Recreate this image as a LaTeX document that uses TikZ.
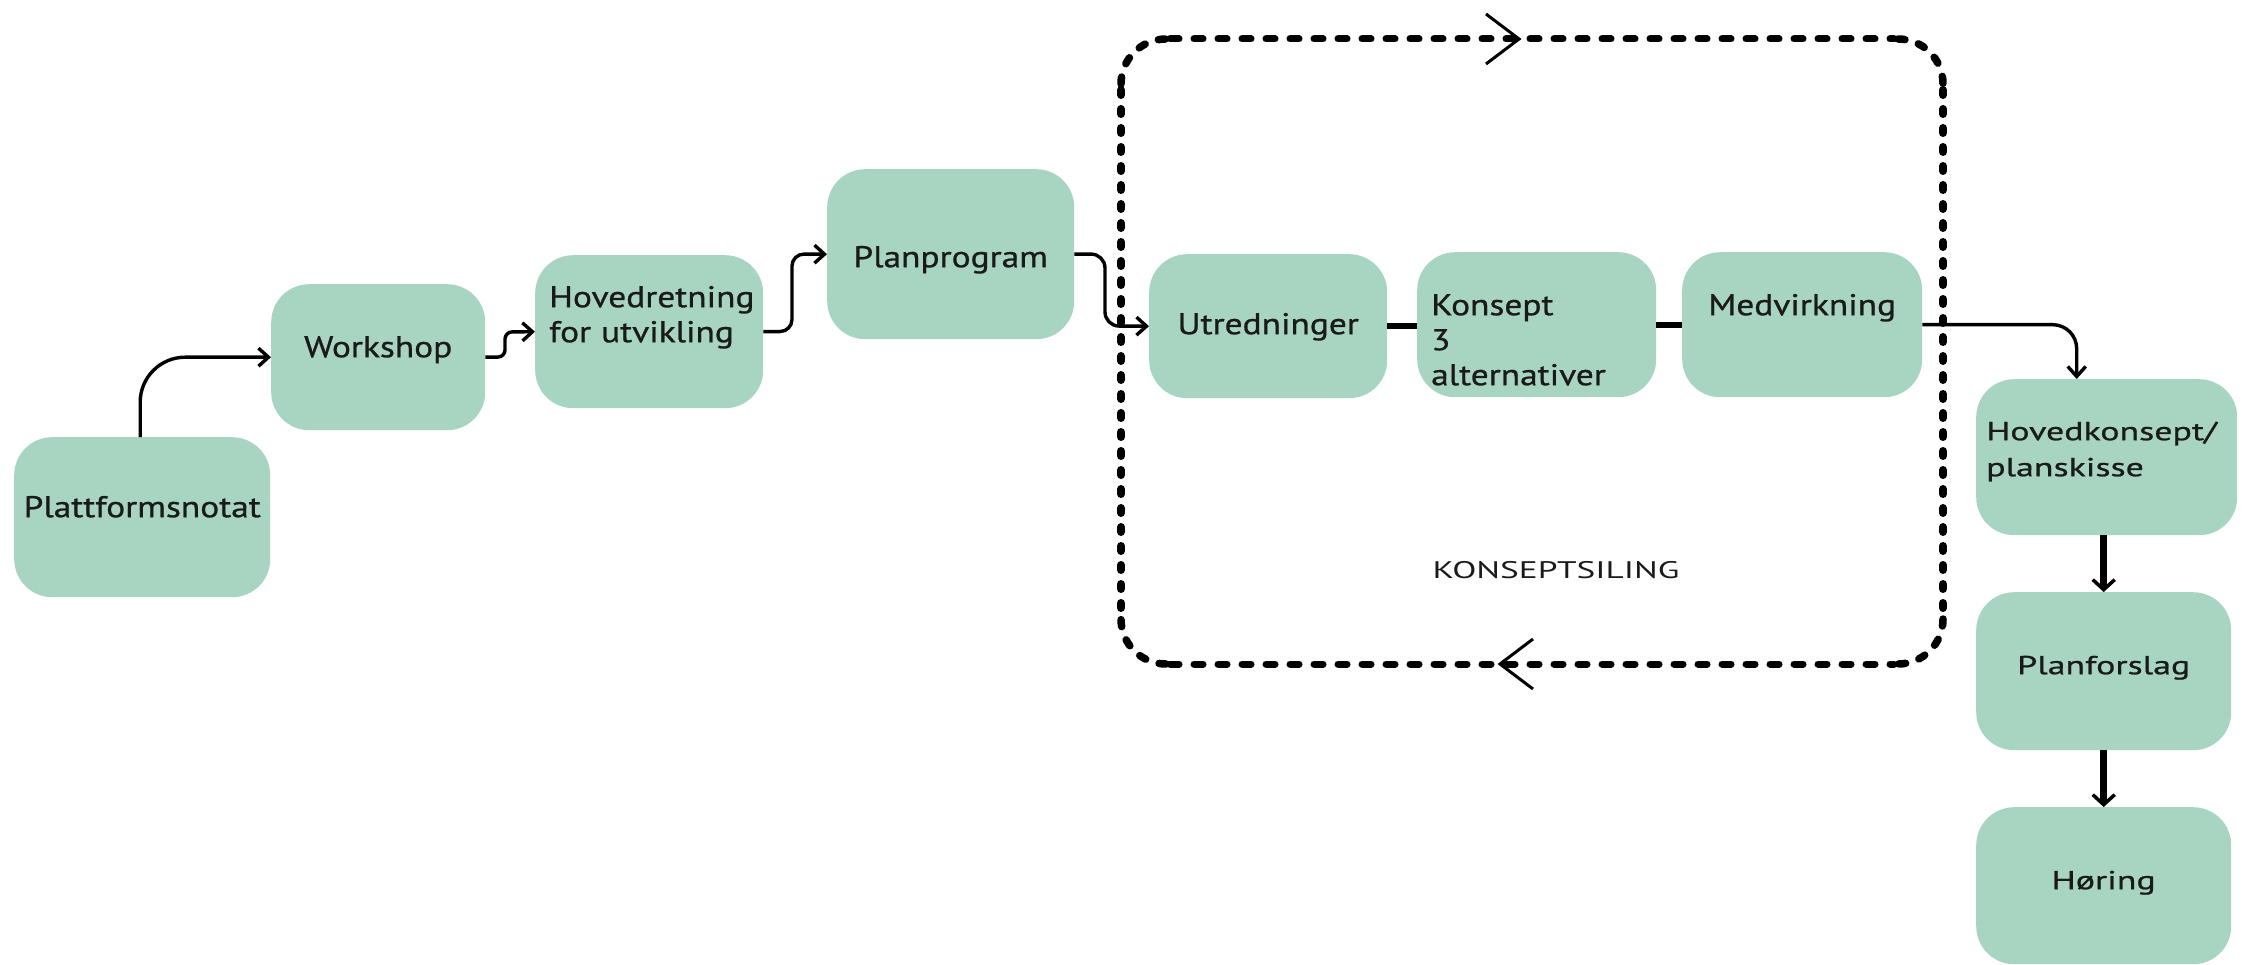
\documentclass[tikz,border=0pt]{standalone}
\usepackage{fontspec}
\setmainfont{PT Sans}
\newfontfamily\lfont{PT Sans}[FakeStretch=1.18,FakeBold=0.8]
\newfontfamily\rfont{PT Sans}[FakeStretch=1.38,FakeBold=0.8]
\newfontfamily\kfont{PT Sans}[FakeStretch=1.47]
\usetikzlibrary{arrows.meta}
\definecolor{boxgreen}{HTML}{A7D5C1}
\definecolor{txt}{HTML}{1A1A1A}
\begin{document}
\begin{tikzpicture}[x=1pt,y=-1pt,
  box/.style={fill=boxgreen, rounded corners=38pt, inner ysep=0pt, inner xsep=0pt,
    anchor=north west, text=txt, font=\lfont\fontsize{30}{35}\selectfont},
  rbox/.style={box, font=\rfont\fontsize{26}{36}\selectfont},
  conn/.style={line width=3.4pt, -{Straight Barb[length=10pt,width=18pt]}},
  bigconn/.style={line width=7pt, -{Straight Barb[length=10pt,width=22pt,line width=3.5pt]}},
  link/.style={line width=6pt},
  hdots/.style={line width=7pt, line cap=round, dash pattern=on 9pt off 15pt},
  vdots/.style={line width=8pt, line cap=round, dash pattern=on 5pt off 14pt},
  cdots/.style={line width=7.5pt, line cap=round, dash pattern=on 7pt off 14pt, rounded corners=45pt},
  chev/.style={line width=3pt}
]
\useasboundingbox (0,0) rectangle (2249,965);

% boxes
\node[box, text width=256pt, align=center, text height=80pt, text depth=80pt] (plat) at (14,437) {Plattformsnotat};
\node[box, text width=214pt, align=center, text height=73pt, text depth=73pt] (work) at (271,284) {Workshop};
\node[box, inner xsep=14pt, text width=200pt, align=left, text height=52pt, text depth=101pt] (hov) at (535,255) {Hovedretning\\for utvikling};
\node[box, text width=247pt, align=center, text height=98pt, text depth=72pt] (plan) at (827,169) {Planprogram};
\node[box, text width=238pt, align=center, text height=80pt, text depth=64pt] (utr) at (1149,254) {Utredninger};
\node[box, inner xsep=14pt, text width=211pt, align=left, text height=63pt, text depth=82pt] (kon) at (1417,252) {Konsept\\3\\alternativer};
\node[box, text width=240pt, align=center, text height=63pt, text depth=82pt] (med) at (1682,252) {Medvirkning};
\node[rbox, inner xsep=10pt, text width=241pt, align=left, text height=61pt, text depth=95pt] (hovk) at (1976,379) {Hovedkonsept/\\planskisse};
\node[rbox, text width=255pt, align=center, text height=82pt, text depth=76pt] (planf) at (1976,592) {Planforslag};
\node[rbox, text width=255pt, align=center, text height=82pt, text depth=75pt] (hor) at (1976,807) {Høring};

% loop (Konseptsiling)
\draw[hdots] (1170,39) -- (1894,39);
\draw[hdots] (1170,664) -- (1894,664);
\draw[vdots] (1121,90) -- (1121,614);
\draw[vdots] (1943,90) -- (1943,614);
\draw[cdots] (1121,84) -- (1121,39) -- (1166,39);
\draw[cdots] (1898,39) -- (1943,39) -- (1943,84);
\draw[cdots] (1943,619) -- (1943,664) -- (1898,664);
\draw[cdots] (1166,664) -- (1121,664) -- (1121,619);
\draw[chev] (1486,14) -- (1519,39) -- (1486,64);
\draw[chev] (1533,639) -- (1500,664) -- (1533,689);
\node[font=\kfont\fontsize{24}{28}\selectfont, text=txt, anchor=base] (ks) at (1556,578) {KONSEPTSILING};

% connectors
\draw[conn, rounded corners=45pt] ([xshift=-2pt]plat.north) |- (work.west);
\draw[conn, rounded corners=7pt] (work.east) -- (505,357) -- (505,332) -- (hov.west);
\draw[conn, rounded corners=12pt] (hov.east) -- (792,331.5) -- (792,254) -- (plan.west);
\draw[conn, rounded corners=14pt] (plan.east) -- (1105,254) -- (1105,326) -- (utr.west);
\draw[link] (utr.east) -- (utr.east -| kon.west);
\draw[link] (kon.east) -- (med.west);
\draw[conn, rounded corners=24pt] (med.east) -| ([xshift=-30pt]hovk.north);
\draw[bigconn] (planf.north |- hovk.south) -- (planf.north);
\draw[bigconn] (planf.south) -- (hor.north);
\end{tikzpicture}
\end{document}
